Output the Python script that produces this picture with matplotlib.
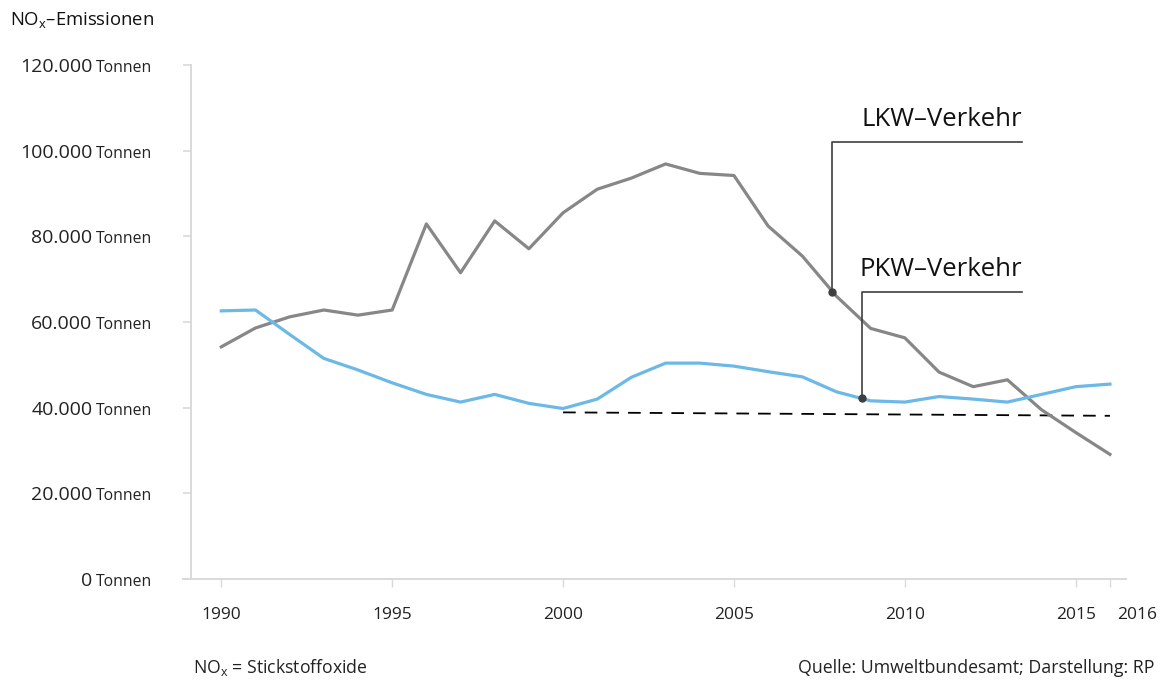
import matplotlib
matplotlib.use("Agg")
import matplotlib.pyplot as plt
from matplotlib.transforms import ScaledTranslation

plt.rcParams["font.family"] = ["Open Sans", "DejaVu Sans"]
plt.rcParams["mathtext.fontset"] = "custom"
plt.rcParams["mathtext.rm"] = "Open Sans"

# NOx-Emissionen in Tonnen
years = list(range(1990, 2017))
lkw = [54200, 58600, 61200, 62800, 61600, 62800, 82900, 71500, 83600, 77100,
       85500, 91000, 93600, 96900, 94700, 94200, 82400, 75400, 66000, 58500,
       56300, 48300, 44900, 46500, 39500, 34200, 29100]
pkw = [62600, 62800, 57100, 51500, 48800, 45800, 43100, 41300, 43100, 41000,
       39800, 42000, 47100, 50400, 50400, 49700, 48400, 47200, 43700, 41600,
       41300, 42600, 42000, 41300, 43100, 44900, 45500]
trend_years = [2000, 2016]
trend_vals = [38900, 38100]

yticks = [0, 20000, 40000, 60000, 80000, 100000, 120000]
xticks = [1990, 1995, 2000, 2005, 2010, 2015, 2016]

# Beschriftungen (Punkt auf Linie, Ende der Hinweislinie)
lkw_dot = (2007.87, 67000)
pkw_dot = (2008.75, 42300)
lkw_leader_y = 102000
pkw_leader_y = 67000
leader_end_x = 2013.43

GRAY = "#878787"
BLUE = "#6cb8e6"
DARK = "#3f3f3f"
AXIS = "#d9d9d9"

fig = plt.figure(figsize=(11.6, 6.8), dpi=100)
ax = fig.add_axes([183 / 1160, 101 / 680, (1126 - 183) / 1160, (579 - 65) / 680])

ax.plot(years, lkw, color=GRAY, lw=2.3, solid_joinstyle="round", zorder=3)
ax.plot(years, pkw, color=BLUE, lw=2.3, solid_joinstyle="round", zorder=3)
ax.plot(trend_years, trend_vals, color="black", lw=1.3, dashes=(7, 5), zorder=2)

# Hinweislinien
for (dx, dy), ly in [(lkw_dot, lkw_leader_y), (pkw_dot, pkw_leader_y)]:
    ax.plot([dx, dx, leader_end_x], [dy, ly, ly], color=DARK, lw=1.2, zorder=4)
    ax.plot(dx, dy, "o", color=DARK, ms=5, zorder=5)
ax.annotate("LKW–Verkehr", xy=(leader_end_x, lkw_leader_y), xytext=(0, 7),
            textcoords="offset points", ha="right", va="bottom", fontsize=18.5, color="#111111")
ax.annotate("PKW–Verkehr", xy=(leader_end_x, pkw_leader_y), xytext=(0, 7),
            textcoords="offset points", ha="right", va="bottom", fontsize=18.5, color="#111111")

ax.set_xlim(1988.88, 2016.47)
ax.set_ylim(0, 120000)

for s in ["top", "right"]:
    ax.spines[s].set_visible(False)
ax.spines["left"].set_position(("data", 1989.12))
for s in ["left", "bottom"]:
    ax.spines[s].set_color(AXIS)
    ax.spines[s].set_linewidth(1.4)

ax.set_xticks(xticks)
ax.set_xticklabels([str(x) for x in xticks], fontsize=12.5, color="#222222")
ax.tick_params(axis="x", length=5.5, width=1, color=AXIS, pad=15)
ax.set_yticks(yticks)
ax.set_yticklabels([])
ax.tick_params(axis="y", length=6, width=1.2, color=AXIS)

# 2016 etwas nach rechts schieben
lab = ax.get_xticklabels()[-1]
lab.set_transform(lab.get_transform() + ScaledTranslation(0.27, 0, fig.dpi_scale_trans))

# y-Beschriftung: Zahl + kleineres "Tonnen"
ytrans = ax.get_yaxis_transform()
x0 = (1989.12 - 1988.88) / (2016.47 - 1988.88)
for v in yticks:
    ax.annotate("Tonnen", xy=(x0, v), xycoords=ytrans, xytext=(-28, -5),
                textcoords="offset points", ha="right", va="baseline", fontsize=11.3, color="#222222")
    ax.annotate(f"{v:,}".replace(",", "."), xy=(x0, v), xycoords=ytrans, xytext=(-71, -5),
                textcoords="offset points", ha="right", va="baseline", fontsize=14, color="#222222")

fig.text(10 / 1160, 1 - 20 / 680, r"NO$_\mathregular{x}$–Emissionen", fontsize=13.3,
         ha="left", va="center", color="#111111")
fig.text(193 / 1160, 1 - 668 / 680, r"NO$_\mathregular{x}$ = Stickstoffoxide", fontsize=12.7,
         ha="left", va="center", color="#222222")
fig.text(798 / 1160, 1 - 668 / 680, "Quelle: Umweltbundesamt; Darstellung: RP", fontsize=12.8,
         ha="left", va="center", color="#222222")

fig.savefig("out.png", dpi=100)
